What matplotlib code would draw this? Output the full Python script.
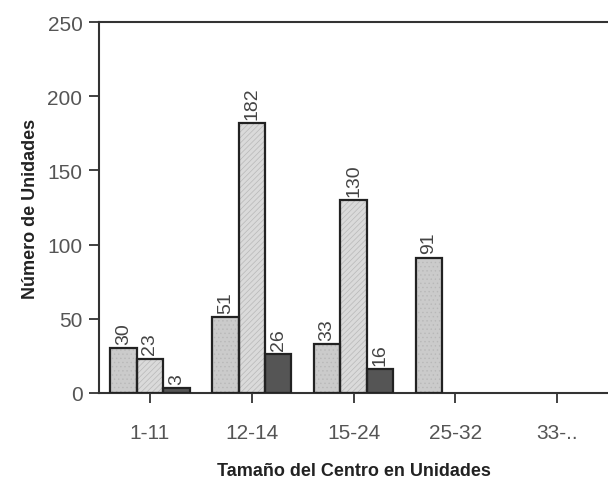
import numpy as np
import matplotlib
matplotlib.use('Agg')
import matplotlib.pyplot as plt

plt.rcParams['font.family'] = ['Liberation Sans', 'DejaVu Sans']

# Datos
categorias = ['1-11', '12-14', '15-24', '25-32', '33-..']
serie_1 = [30, 51, 33, 91, 0]
serie_2 = [23, 182, 130, 0, 0]
serie_3 = [3, 26, 16, 0, 0]

fig = plt.figure(figsize=(6.08, 4.81), dpi=100)
ax = fig.add_axes([0.163, 0.181, 0.837, 0.771])

x = np.arange(len(categorias))
ancho = 0.26
estilos = [
    (serie_1, -ancho, '#cbcbcb', '....'),
    (serie_2, 0, '#dadada', '//////'),
    (serie_3, ancho, '#555555', None),
]

plt.rcParams['hatch.color'] = '#b8b8b8'
plt.rcParams['hatch.linewidth'] = 0.5

for valores, desplaz, color, trama in estilos:
    for xi, v in zip(x, valores):
        if v <= 0:
            continue
        # relleno con textura
        ax.bar(xi + desplaz, v, ancho, color=color, hatch=trama,
               edgecolor='#b8b8b8' if trama else color, linewidth=0, zorder=2)
        # borde
        ax.bar(xi + desplaz, v, ancho, fill=False, edgecolor='#222222',
               linewidth=1.6, zorder=3)
        ax.text(xi + desplaz, v + 3, str(v), rotation=90, ha='center',
                va='bottom', fontsize=14, color='#444444')

ax.set_xlim(-0.5, 4.5)
ax.set_ylim(0, 250)
ax.set_yticks([0, 50, 100, 150, 200, 250])
ax.set_xticks(x)
ax.set_xticklabels(categorias)

ax.spines['right'].set_visible(False)
for s in ['left', 'top', 'bottom']:
    ax.spines[s].set_linewidth(1.5)
    ax.spines[s].set_color('#333333')

ax.tick_params(axis='both', direction='out', length=7, width=1.3,
               colors='#333333', labelsize=15, labelcolor='#555555', pad=5)
ax.tick_params(axis='x', pad=15)

ax.set_xlabel('Tamaño del Centro en Unidades', fontsize=13, fontweight='bold',
              color='#222222', labelpad=14)
ax.set_ylabel('Número de Unidades', fontsize=13, fontweight='bold',
              color='#222222', labelpad=6)

fig.savefig('out.png', dpi=100)
